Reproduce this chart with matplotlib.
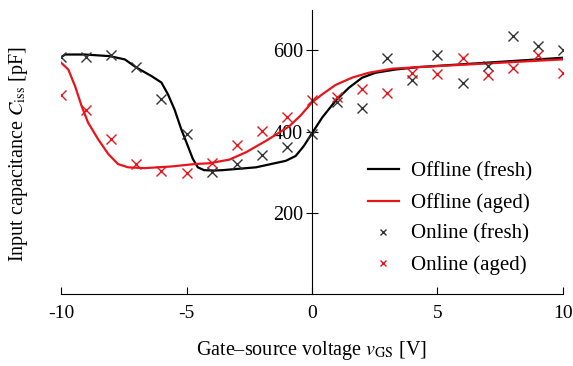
import matplotlib
matplotlib.use("Agg")
import matplotlib.pyplot as plt

# Online measurements (integer gate-source voltages)
v_online = list(range(-10, 11))
online_fresh = [583, 585, 588, 559, 480, 394, 301, 320, 342, 362, 394,
                473, 457, 582, 527, 588, 521, 562, 635, 611, 602]
online_aged = [490, 453, 383, 319, 302, 297, 322, 367, 402, 437, 478,
               486, 506, 496, 544, 541, 582, 539, 557, 590, 544]

# Offline curves
v_off_fresh = [-10, -9.84, -9.05, -8.06, -7.46, -7.0, -6.4, -6.0, -5.74, -5.48,
               -5.21, -4.95, -4.75, -4.55, -4.3, -3.9, -3.56, -2.23, -1.04,
               -0.65, -0.32, 0, 0.41, 0.94, 1.47, 2.0, 2.53, 3.32, 4.25, 7.0, 10]
off_fresh = [583, 590, 590, 586, 578, 558, 537, 521, 492, 455,
             406, 365, 333, 312, 305, 304, 305, 312, 328,
             340, 365, 396, 435, 476, 508, 533, 545, 553, 559, 570, 582]
v_off_aged = [-10, -9.71, -9.44, -9.18, -8.92, -8.52, -8.12, -7.73, -7.33, -6.67,
              -5.61, -4.68, -4.09, -3.29, -2.63, -1.84, -0.91, -0.45, 0, 0.41,
              0.94, 1.6, 2.26, 3.19, 4.25, 7.0, 10]
off_aged = [570, 553, 512, 463, 422, 381, 345, 320, 312, 310,
            314, 320, 322, 331, 349, 377, 413, 440, 472, 492,
            515, 533, 545, 555, 559, 568, 578]

plt.rcParams['font.family'] = ['Liberation Serif', 'DejaVu Serif']
plt.rcParams['mathtext.fontset'] = 'stix'
fs = 14.5

fig = plt.figure(figsize=(5.73, 3.66), dpi=100)
ax = fig.add_axes([0.1065, 0.197, 0.8760, 0.776])

ax.plot(v_off_fresh, off_fresh, color='black', lw=1.6, label='Offline (fresh)')
ax.plot(v_off_aged, off_aged, color='#e8141b', lw=1.6, label='Offline (aged)')
ax.plot(v_online, online_fresh, ls='none', marker='x', color='#333333', ms=7, mew=1.0,
        label='Online (fresh)')
ax.plot(v_online, online_aged, ls='none', marker='x', color='#e8141b', ms=7, mew=1.0,
        label='Online (aged)')

ax.set_xlim(-10, 10)
ax.set_ylim(0, 700)
ax.spines['top'].set_visible(False)
ax.spines['right'].set_visible(False)
ax.spines['left'].set_position(('data', 0))
ax.set_xticks([-10, -5, 0, 5, 10])
ax.set_xticklabels(['-10', '-5', '0', '5', '10'])
ax.set_yticks([200, 400, 600])
ax.tick_params(axis='x', direction='in', length=5, labelsize=14, pad=8)
ax.tick_params(axis='y', direction='inout', length=9, labelsize=fs, pad=2)

ax.set_xlabel(r'Gate–source voltage $v_\mathrm{GS}$ [V]', fontsize=fs, labelpad=12)
fig.text(0.033, 0.58, r'Input capacitance $C_\mathrm{iss}$ [pF]', fontsize=fs,
         rotation=90, va='center', ha='center')

leg = ax.legend(loc='lower right', bbox_to_anchor=(0.975, 0.0), frameon=False,
                fontsize=15, handlelength=1.5, handletextpad=0.55, labelspacing=0.55,
                markerscale=0.6)

fig.savefig('out.png', dpi=100)
